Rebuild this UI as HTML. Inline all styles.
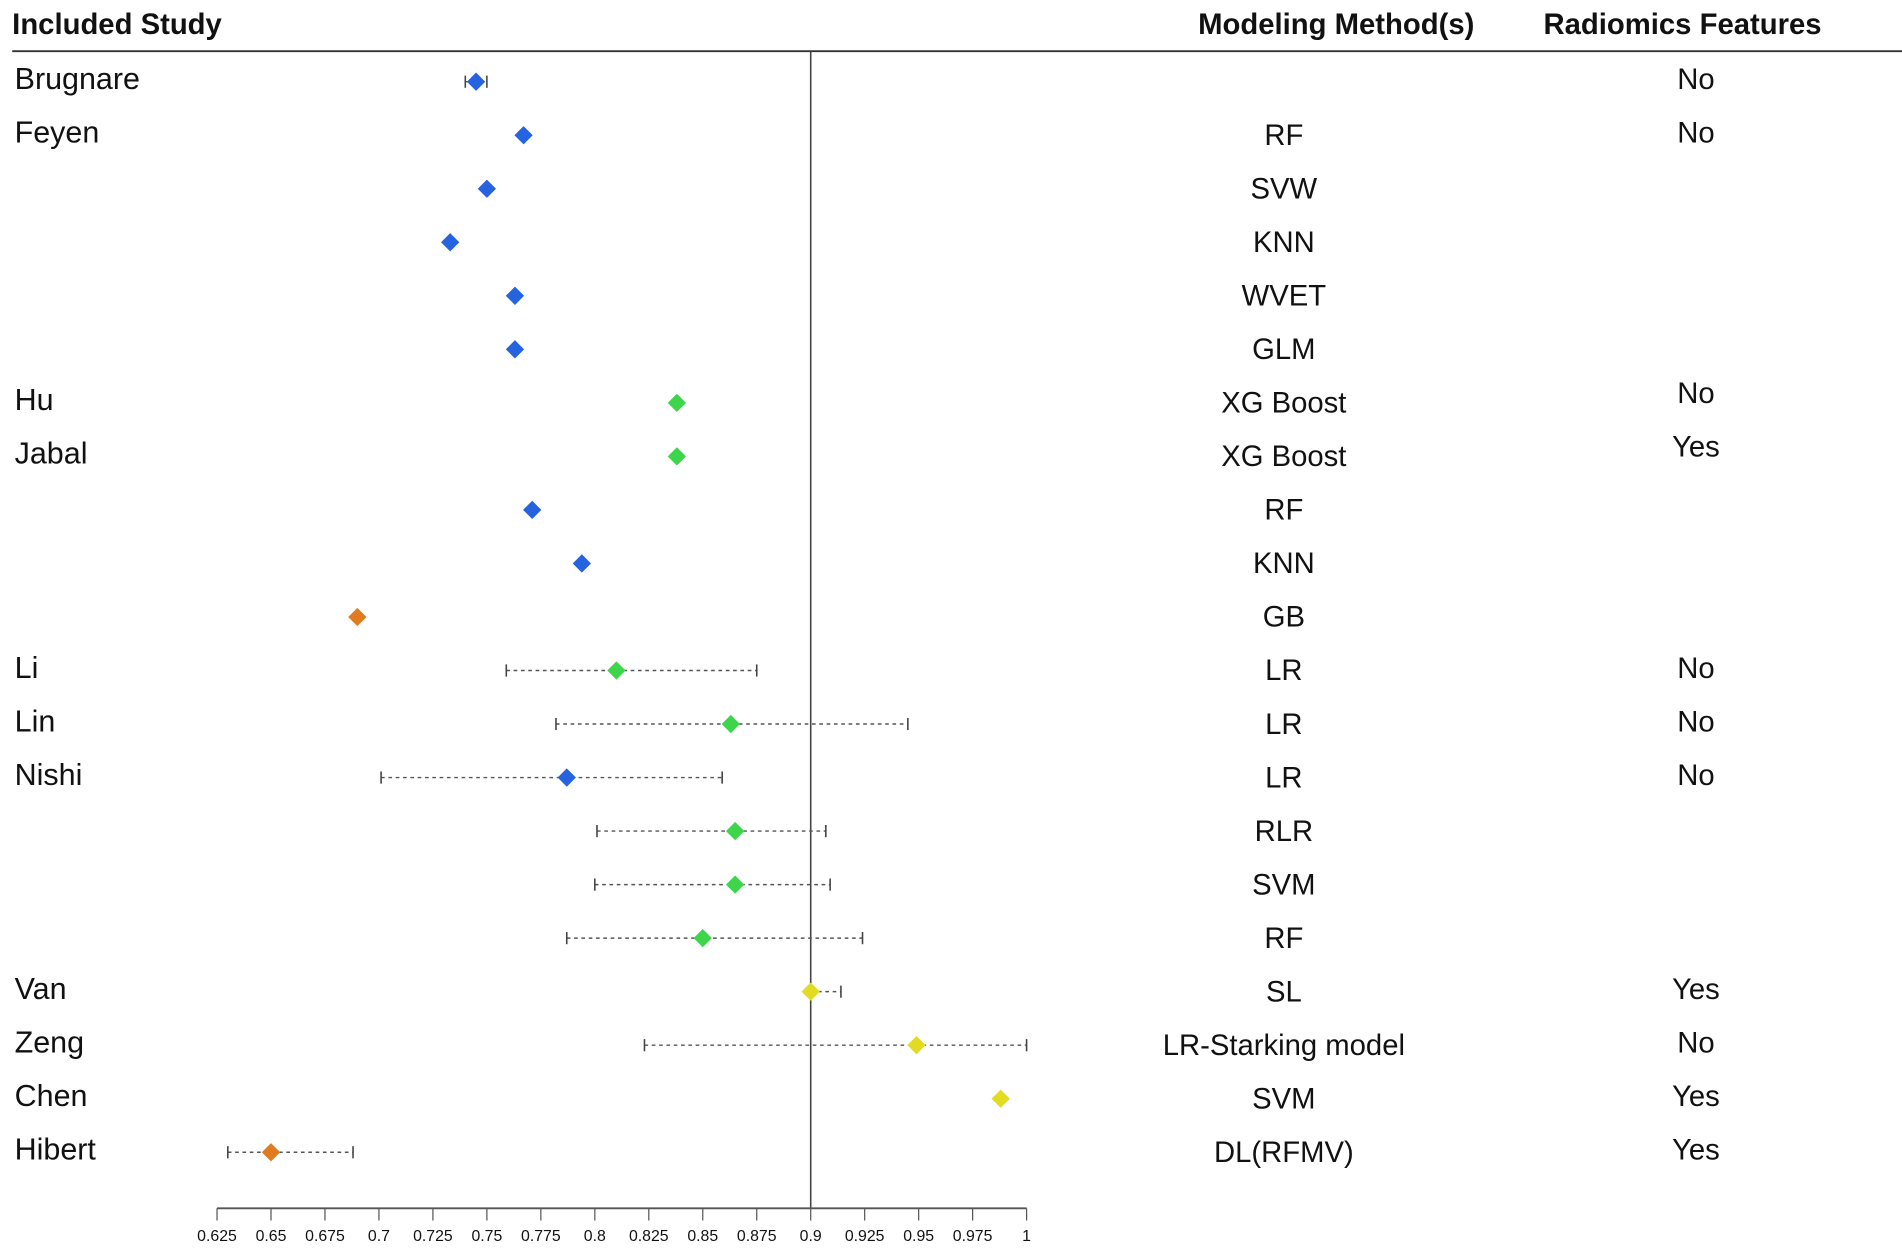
<!DOCTYPE html>
<html><head><meta charset="utf-8"><style>
html,body{margin:0;padding:0;background:#fff}
svg{display:block}
text{font-family:"Liberation Sans",sans-serif;fill:#111}
</style></head><body>
<svg id="chart" width="1902" height="1251" viewBox="0 0 1560 1026" preserveAspectRatio="none" xmlns="http://www.w3.org/2000/svg">
<g id="hdr">
<text x="10" y="28" font-size="24" font-weight="bold">Included Study</text>
<text x="1096" y="28" font-size="24" font-weight="bold" text-anchor="middle">Modeling Method(s)</text>
<text x="1380" y="28" font-size="24" font-weight="bold" text-anchor="middle">Radiomics Features</text>
<line x1="10" x2="1560" y1="42" y2="42" stroke="#333" stroke-width="1.5"/>
</g>
<g id="marks"></g>
</svg>
<script>
const studies=["Brugnare","Feyen","","","","","Hu","Jabal","","","","Li","Lin","Nishi","","","","Van","Zeng","Chen","Hibert"];
const methods=["","RF","SVW","KNN","WVET","GLM","XG Boost","XG Boost","RF","KNN","GB","LR","LR","LR","RLR","SVM","RF","SL","LR-Starking model","SVM","DL(RFMV)"];
const radiomics=["No","No","","","","","No","Yes","","","","No","No","No","","","","Yes","No","Yes","Yes"];
const estimates=[0.745,0.767,0.750,0.733,0.763,0.763,0.838,0.838,0.771,0.794,0.690,0.810,0.863,0.787,0.865,0.865,0.850,0.900,0.949,0.988,0.650];
const lower=[0.740,null,null,null,null,null,null,null,null,null,null,0.759,0.782,0.701,0.801,0.800,0.787,0.900,0.823,null,0.630];
const upper=[0.750,null,null,null,null,null,null,null,null,null,null,0.875,0.945,0.859,0.907,0.909,0.924,0.914,1.000,null,0.688];
const groups=["b","b","b","b","b","b","g","g","b","b","o","g","g","b","g","g","g","y","y","y","o"];
const ticks=[0.625,0.65,0.675,0.7,0.725,0.75,0.775,0.8,0.825,0.85,0.875,0.9,0.925,0.95,0.975,1];
const colors={b:"#2563e0",g:"#3dd64b",o:"#e07b1f",y:"#e3da22"};
const NS="http://www.w3.org/2000/svg";
const g=document.getElementById('marks');
const xs=v=>178+(v-0.625)/0.375*664;
const ys=i=>67+i*43.9;
function mk(t,a){const e=document.createElementNS(NS,t);for(const k in a)e.setAttribute(k,a[k]);g.appendChild(e);return e;}
let rl=mk('line',{x1:xs(0.9),x2:xs(0.9),y1:42,y2:991,stroke:'#444','stroke-width':1.3});


let ax=mk('line',{x1:xs(0.625),x2:xs(1),y1:991,y2:991,stroke:'#555','stroke-width':1.5});


ticks.forEach(t=>{
 let l=mk('line',{x1:xs(t),x2:xs(t),y1:991,y2:1001,stroke:'#555','stroke-width':1});
 
 
 let tx=mk('text',{x:xs(t),y:1018,'font-size':13,'text-anchor':'middle','font-family':'Liberation Serif, serif'});
 tx.textContent=String(t);
 
 
});
estimates.forEach((v,i)=>{
 const y=ys(i);
 if(studies[i]){let t=mk('text',{x:12,y:y+6,'font-size':25});t.textContent=studies[i];
  
  }
 if(methods[i]){let t=mk('text',{x:1053,y:y+8,'font-size':24,'text-anchor':'middle'});t.textContent=methods[i];
  
  }
 if(radiomics[i]){const off=(i===6||i===7)?-1:0;let t=mk('text',{x:1391,y:y+6+off*6,'font-size':24,'text-anchor':'middle'});t.textContent=radiomics[i];
  
  }
 if(lower[i]!=null){
  const x1=xs(lower[i]),x2=xs(upper[i]);
  let w=mk('line',{x1:x1,x2:x2,y1:y,y2:y,stroke:'#555','stroke-width':1.2,'stroke-dasharray':'3,3'});
  
  
  [x1,x2].forEach(x=>{let c=mk('line',{x1:x,x2:x,y1:y-5,y2:y+5,stroke:'#444','stroke-width':1.3});
   
   });
 }
 const x=xs(v),r=7.5;
 let d=mk('polygon',{points:`${x},${y-r} ${x+r},${y} ${x},${y+r} ${x-r},${y}`,fill:colors[groups[i]]});
 
 
});
</script>
</body></html>
